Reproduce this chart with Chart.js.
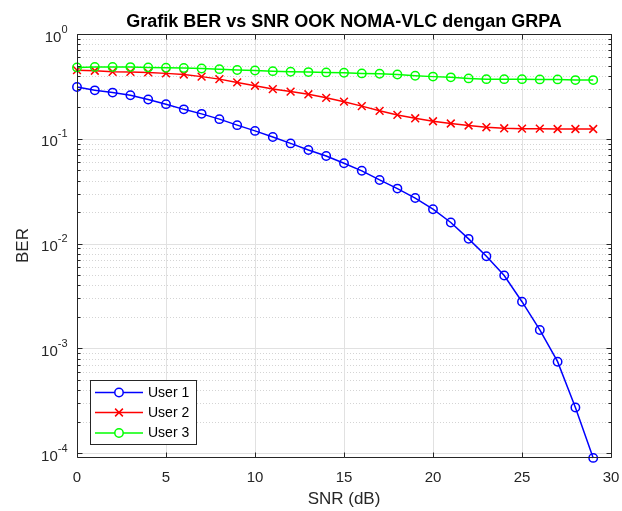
<!DOCTYPE html>
<html>
<head>
<meta charset="utf-8">
<title>BER vs SNR</title>
<script src="https://cdn.jsdelivr.net/npm/chart.js@4.4.0/dist/chart.umd.min.js"></script>
<style>
  html, body { margin: 0; padding: 0; background: #fff; }
  #wrap { width: 622px; height: 511px; }
</style>
</head>
<body>
<div id="wrap"><canvas id="berChart" width="622" height="511"></canvas></div>
<script>
// SNR sweep (dB) and simulated BER per user
const snr = [0, 1, 2, 3, 4, 5, 6, 7, 8, 9, 10, 11, 12, 13, 14, 15, 16, 17, 18, 19, 20, 21, 22, 23, 24, 25, 26, 27, 28, 29];
const berUser1 = [0.312, 0.290, 0.276, 0.260, 0.237, 0.214, 0.191, 0.173, 0.154, 0.135, 0.119, 0.104, 0.0904, 0.0781, 0.0685,
                  0.0584, 0.0495, 0.0405, 0.0335, 0.0272, 0.0213, 0.0159, 0.0111, 0.00757, 0.00496, 0.00279, 0.00150, 0.000747, 0.000273, 0.0000902];
const berUser2 = [0.452, 0.446, 0.436, 0.435, 0.430, 0.421, 0.411, 0.392, 0.371, 0.345, 0.321, 0.298, 0.282, 0.266, 0.246,
                  0.226, 0.205, 0.185, 0.169, 0.157, 0.147, 0.140, 0.134, 0.129, 0.126, 0.125, 0.125, 0.124, 0.124, 0.124];
const berUser3 = [0.480, 0.485, 0.485, 0.483, 0.480, 0.477, 0.474, 0.469, 0.462, 0.454, 0.448, 0.442, 0.436, 0.433, 0.430,
                  0.427, 0.421, 0.418, 0.411, 0.400, 0.392, 0.386, 0.377, 0.371, 0.371, 0.371, 0.369, 0.369, 0.363, 0.363];
const userNames = ['User 1', 'User 2', 'User 3'];
const xTicks = [0, 5, 10, 15, 20, 25, 30];
const yDecades = [-4, -3, -2, -1, 0];
const titleText = 'Grafik BER vs SNR OOK NOMA-VLC dengan GRPA';

const axisColor = '#262626';
const fontFamily = '"Liberation Sans", Arial, Helvetica, sans-serif';

Chart.defaults.font.family = fontFamily;
Chart.defaults.color = axisColor;

function toPoints(values) {
    return snr.map((s, i) => ({ x: s, y: values[i] }));
}

function hline(ctx, x0, x1, y) {
    ctx.moveTo(x0, y);
    ctx.lineTo(x1, y);
}

// MATLAB-like axes: grid, box, inward ticks, 10^k labels, title and legend
const matlabAxes = {
    id: 'matlabAxes',
    beforeDatasetsDraw(chart) {
        const { ctx, chartArea: a, scales: { x, y } } = chart;
        ctx.save();
        ctx.lineWidth = 1;

        // minor log grid (dotted)
        ctx.strokeStyle = '#d4d4d4';
        ctx.setLineDash([1, 2]);
        ctx.beginPath();
        yDecades.forEach(k => {
            for (let m = 2; m <= 9; m++) {
                const v = m * Math.pow(10, k);
                if (v < y.min || v > y.max) continue;
                hline(ctx, a.left, a.right, Math.round(y.getPixelForValue(v)) + 0.5);
            }
        });
        ctx.stroke();

        // major grid
        ctx.setLineDash([]);
        ctx.strokeStyle = '#e1e1e1';
        ctx.beginPath();
        xTicks.forEach(v => {
            const px = Math.round(x.getPixelForValue(v)) + 0.5;
            ctx.moveTo(px, a.top);
            ctx.lineTo(px, a.bottom);
        });
        yDecades.forEach(k => {
            hline(ctx, a.left, a.right, Math.round(y.getPixelForValue(Math.pow(10, k))) + 0.5);
        });
        ctx.stroke();
        ctx.restore();
    },
    afterDatasetsDraw(chart) {
        const { ctx, chartArea: a, scales: { x, y } } = chart;
        const left = Math.round(a.left) + 0.5;
        const right = Math.round(a.right) + 0.5;
        const top = Math.round(a.top) + 0.5;
        const bottom = Math.round(a.bottom) + 0.5;
        ctx.save();
        ctx.strokeStyle = axisColor;
        ctx.lineWidth = 1;
        ctx.beginPath();
        xTicks.forEach(v => {
            const px = Math.round(x.getPixelForValue(v)) + 0.5;
            ctx.moveTo(px, bottom); ctx.lineTo(px, bottom - 5);
            ctx.moveTo(px, top); ctx.lineTo(px, top + 5);
        });
        yDecades.forEach(k => {
            for (let m = 1; m <= 9; m++) {
                const v = m * Math.pow(10, k);
                if (v < y.min || v > y.max) continue;
                const py = Math.round(y.getPixelForValue(v)) + 0.5;
                const len = m === 1 ? 5 : 3;
                hline(ctx, left, left + len, py);
                hline(ctx, right - len, right, py);
            }
        });
        ctx.rect(left, top, right - left, bottom - top);
        ctx.stroke();

        // y tick labels as 10 with a raised exponent
        ctx.fillStyle = axisColor;
        ctx.textAlign = 'right';
        ctx.textBaseline = 'alphabetic';
        yDecades.forEach(k => {
            const py = y.getPixelForValue(Math.pow(10, k));
            const exp = String(k);
            ctx.font = '11px ' + fontFamily;
            const ew = ctx.measureText(exp).width;
            ctx.fillText(exp, 67.5, py - 1.5);
            ctx.font = '15px ' + fontFamily;
            ctx.fillText('10', 67.5 - ew, py + 7.5);
        });

        // title
        ctx.font = 'bold 18px ' + fontFamily;
        ctx.textAlign = 'center';
        ctx.fillStyle = '#000';
        ctx.fillText(titleText, (a.left + a.right) / 2, 27);
        ctx.restore();
    },
    afterDraw(chart) {
        const { ctx } = chart;
        const box = { x: 90.5, y: 380.5, w: 106, h: 64 };
        const rowY = [392.5, 412.5, 433];
        ctx.save();
        ctx.fillStyle = '#fff';
        ctx.fillRect(box.x, box.y, box.w, box.h);
        ctx.strokeStyle = axisColor;
        ctx.lineWidth = 1;
        ctx.strokeRect(box.x, box.y, box.w, box.h);

        chart.data.datasets.forEach((ds, i) => {
            const ly = rowY[i];
            ctx.strokeStyle = ds.borderColor;
            ctx.lineWidth = 1.5;
            ctx.beginPath();
            hline(ctx, 95, 143, ly);
            ctx.stroke();
            ctx.fillStyle = '#fff';
            Chart.helpers.drawPoint(ctx, {
                pointStyle: ds.pointStyle,
                radius: ds.pointRadius,
                borderWidth: ds.pointBorderWidth
            }, 119, ly);
            ctx.fillStyle = '#000';
            ctx.font = '14px ' + fontFamily;
            ctx.textAlign = 'left';
            ctx.textBaseline = 'middle';
            ctx.fillText(userNames[i], 148, ly + 0.5);
        });
        ctx.restore();
    }
};

function makeDataset(label, values, color, style, radius, order) {
    return {
        label: label,
        data: toPoints(values),
        borderColor: color,
        backgroundColor: color,
        borderWidth: 1.5,
        pointStyle: style,
        pointRadius: radius,
        pointHoverRadius: radius,
        pointBorderColor: color,
        pointBackgroundColor: 'rgba(0,0,0,0)',
        pointBorderWidth: 1.5,
        tension: 0,
        clip: false,
        order: order
    };
}

const ctx = document.getElementById('berChart').getContext('2d');
const berChart = new Chart(ctx, {
    type: 'line',
    data: {
        datasets: [
            makeDataset(userNames[0], berUser1, '#0000ff', 'circle', 4.2, 3),
            makeDataset(userNames[1], berUser2, '#ff0000', 'crossRot', 5.5, 2),
            makeDataset(userNames[2], berUser3, '#00ff00', 'circle', 4.2, 1)
        ]
    },
    options: {
        responsive: false,
        animation: false,
        layout: { padding: { top: 34, right: 11, left: 0, bottom: 0 } },
        plugins: {
            legend: { display: false },
            title: { display: false },
            tooltip: { enabled: false }
        },
        scales: {
            x: {
                type: 'linear',
                min: 0,
                max: 30,
                grid: { display: false, drawTicks: false },
                border: { display: false },
                ticks: { stepSize: 5, padding: 12, maxRotation: 0, color: axisColor, font: { size: 15 } },
                title: { display: true, text: 'SNR (dB)', color: axisColor, font: { size: 17 }, padding: { top: 1, bottom: 1 } },
                afterFit(scale) {
                    scale.height = 54;
                    // edge labels may hang past the plot box
                    scale.paddingLeft = 0;
                    scale.paddingRight = 0;
                }
            },
            y: {
                type: 'logarithmic',
                min: 9.2e-5,
                max: 1,
                grid: { display: false, drawTicks: false },
                border: { display: false },
                ticks: { display: false },
                title: { display: true, text: 'BER', color: axisColor, font: { size: 17 }, padding: { top: 13, bottom: 13 } },
                afterFit(scale) { scale.width = 77; }
            }
        }
    },
    plugins: [matlabAxes]
});
</script>
</body>
</html>
